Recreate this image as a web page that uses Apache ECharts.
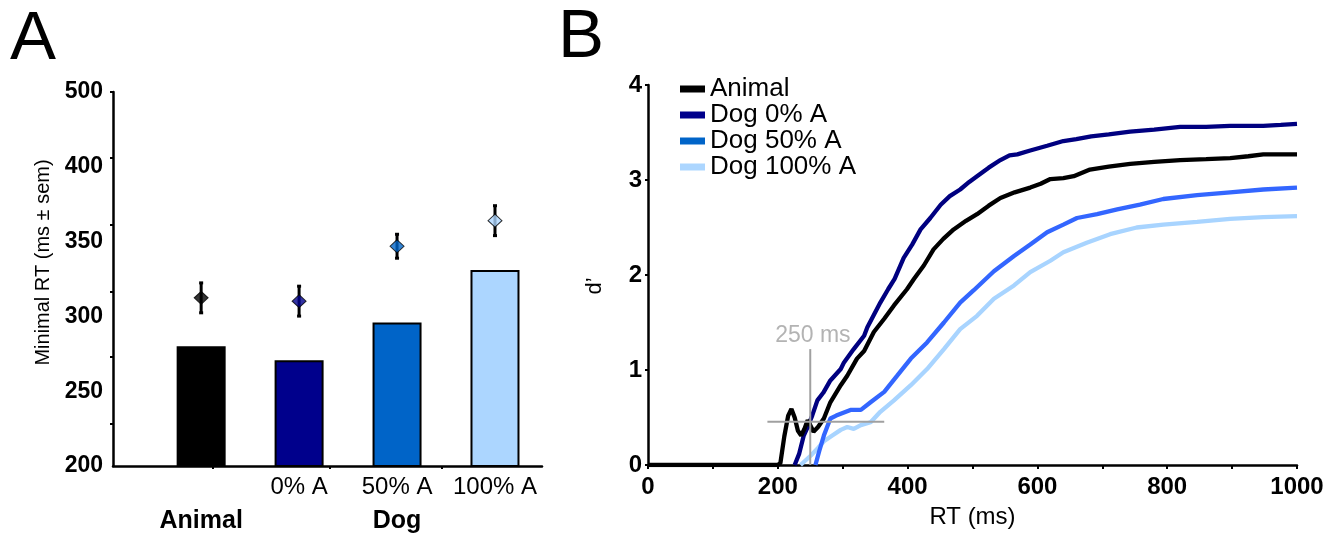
<!DOCTYPE html>
<html>
<head>
<meta charset="utf-8">
<script src="https://cdn.jsdelivr.net/npm/echarts@6/dist/echarts.min.js"></script>
<style>html,body{margin:0;padding:0;background:#fff;}#c{width:1336px;height:534px;}</style>
</head>
<body>
<div id="c"></div>
<script>
// ---------- Panel A data ----------
const categoriesA = ['Animal', '0% A', '50% A', '100% A'];
const subLabelsA = ['', '0% A', '50% A', '100% A'];
const groupLabelsA = ['Animal', 'Dog'];
const groupPosA = [1, 3];
const minimalRT = [280, 270.7, 296, 331];
const meanRT = [312.4, 310.2, 346.9, 364];
const semRT = [10, 10, 8, 10];
const yTickLabelsA = ['200', '250', '300', '350', '400', '500'];
const yTickMarksA = [228, 272.7, 316.7, 361.3, 406, 450];
const xTickMarksA = [1.12, 2.31, 3.46];
const barColors = ['#000000', '#00008c', '#0064c8', '#acd6ff'];

// ---------- Panel B data (RT ms, d') ----------
const curveAnimal = [[0,0],[100,0],[200,0],[204,0.02],[210,0.3],[216,0.52],[221,0.59],[226,0.5],[231,0.36],[236,0.31],[241,0.38],[246,0.47],[250,0.42],[255,0.35],[262,0.40],[271,0.49],[281,0.66],[297,0.84],[307,0.94],[322,1.12],[333,1.2],[348,1.40],[364,1.54],[379,1.68],[399,1.85],[410,1.96],[425,2.10],[440,2.27],[455,2.38],[471,2.48],[490,2.57],[507,2.64],[525,2.73],[543,2.81],[565,2.87],[589,2.92],[605,2.96],[620,3.01],[640,3.02],[656,3.04],[681,3.11],[710,3.14],[743,3.17],[780,3.19],[820,3.21],[860,3.22],[897,3.23],[925,3.25],[948,3.27],[975,3.27],[1000,3.27]];
const curveDog0 = [[226,0],[233,0.12],[240,0.31],[246,0.40],[253,0.52],[261,0.68],[270,0.76],[281,0.89],[297,1.01],[302,1.08],[317,1.22],[333,1.36],[338,1.45],[358,1.71],[370,1.85],[380,1.96],[394,2.18],[407,2.32],[420,2.48],[435,2.60],[451,2.74],[465,2.83],[481,2.90],[495,2.98],[507,3.04],[525,3.13],[543,3.21],[557,3.26],[569,3.27],[589,3.31],[615,3.36],[640,3.41],[660,3.43],[683,3.46],[710,3.48],[743,3.51],[780,3.53],[820,3.56],[860,3.56],[897,3.57],[948,3.57],[975,3.58],[1000,3.59]];
const curveDog50 = [[258,0],[264,0.15],[271,0.31],[281,0.49],[290,0.52],[297,0.54],[312,0.58],[328,0.58],[343,0.66],[364,0.77],[384,0.94],[405,1.12],[430,1.29],[456,1.50],[481,1.71],[502,1.84],[533,2.04],[564,2.20],[589,2.32],[615,2.45],[640,2.53],[661,2.60],[692,2.64],[723,2.69],[758,2.74],[794,2.80],[846,2.84],[897,2.87],[948,2.90],[1000,2.92]];
const curveDog100 = [[235,0],[243,0.05],[251,0.10],[262,0.18],[271,0.25],[284,0.31],[297,0.37],[307,0.40],[317,0.38],[328,0.42],[343,0.45],[358,0.56],[379,0.68],[405,0.84],[430,1.01],[456,1.22],[481,1.43],[507,1.57],[533,1.75],[564,1.89],[589,2.03],[620,2.15],[640,2.24],[676,2.34],[712,2.43],[753,2.50],[794,2.53],[846,2.56],[897,2.59],[948,2.61],[1000,2.62]];
const seriesNamesB = ['Animal', 'Dog 0% A', 'Dog 50% A', 'Dog 100% A'];
const lineColorsB = ['#000000', '#000080', '#3366ff', '#a8d4ff'];
const legendColorsB = ['#000000', '#00008c', '#0064c8', '#acd6ff'];
const markVertical = [[250, 0], [250, 1.22]];
const markHorizontal = [[184, 0.455], [364, 0.455]];
const markLabel = [[254, 1.36]];

const FONT = 'Liberation Sans, Arial, sans-serif';
const chart = echarts.init(document.getElementById('c'), null, {renderer: 'canvas'});

const axisLineStyle = {show: true, lineStyle: {color: '#000', width: 2.5}};

const option = {
  animation: false,
  backgroundColor: '#fff',
  textStyle: {fontFamily: FONT},
  graphic: [
    {type: 'text', left: 10, top: 5, style: {text: 'A', font: '69px ' + FONT, fill: '#000'}},
    {type: 'text', left: 558, top: 3, style: {text: 'B', font: '69px ' + FONT, fill: '#000'}}
  ],
  grid: [
    {left: 113, top: 92, width: 429, height: 375},
    {left: 648, top: 85, width: 649, height: 382}
  ],
  legend: {
    orient: 'vertical', left: 680, top: 76, padding: 0,
    icon: 'rect', itemWidth: 25, itemHeight: 7, itemGap: 0,
    textStyle: {fontSize: 26, lineHeight: 24.5, color: '#000', fontFamily: FONT},
    data: seriesNamesB.map((n, i) => ({name: n, itemStyle: {color: legendColorsB[i], borderWidth: 0}}))
  },
  xAxis: [
    {
      gridIndex: 0, type: 'value', min: 0.1, max: 4.48,
      axisLine: axisLineStyle, splitLine: {show: false},
      axisTick: {show: true, customValues: xTickMarksA, length: 3, lineStyle: {color: '#000', width: 2}},
      axisLabel: {customValues: [2, 3, 4], formatter: v => subLabelsA[Math.round(v) - 1], fontSize: 24, color: '#000', margin: 9, fontFamily: FONT}
    },
    {
      gridIndex: 0, type: 'value', min: 0.1, max: 4.48, position: 'bottom', offset: 34,
      axisLine: {show: false}, axisTick: {show: false}, splitLine: {show: false},
      axisLabel: {customValues: groupPosA, formatter: v => groupLabelsA[groupPosA.indexOf(Math.round(v))], fontSize: 25, fontWeight: 'bold', color: '#000', margin: 9, fontFamily: FONT}
    },
    {
      gridIndex: 1, type: 'value', min: 0, max: 1000, interval: 200,
      name: 'RT (ms)', nameLocation: 'middle', nameGap: 40,
      nameTextStyle: {fontSize: 24, color: '#000', fontFamily: FONT},
      axisLine: axisLineStyle, splitLine: {show: false},
      axisTick: {show: true, length: 4, lineStyle: {color: '#000', width: 2}},
      minorTick: {show: true, splitNumber: 2, length: 4, lineStyle: {color: '#000', width: 2}},
      axisLabel: {formatter: v => String(v), fontSize: 24, fontWeight: 'bold', color: '#000', margin: 10, fontFamily: FONT}
    }
  ],
  yAxis: [
    {
      gridIndex: 0, type: 'value', min: 200, max: 450, interval: 50,
      name: 'Minimal RT (ms \u00b1 sem)', nameLocation: 'middle', nameGap: 60, nameRotate: 90,
      nameTextStyle: {fontSize: 20, color: '#000', fontFamily: FONT, padding: [0, 0, 0, 33]},
      axisLine: axisLineStyle, splitLine: {show: false},
      axisTick: {show: true, customValues: yTickMarksA, length: 3, lineStyle: {color: '#000', width: 2}},
      axisLabel: {formatter: (v, i) => yTickLabelsA[i], fontSize: 23, fontWeight: 'bold', color: '#000', margin: 10, fontFamily: FONT}
    },
    {
      gridIndex: 1, type: 'value', min: 0, max: 4, interval: 1,
      name: 'd\u2019', nameLocation: 'middle', nameGap: 42, nameRotate: 90,
      nameTextStyle: {fontSize: 22, color: '#000', fontFamily: FONT, padding: [0, 22, 0, 0]},
      axisLine: axisLineStyle, splitLine: {show: false},
      axisTick: {show: true, length: 3, lineStyle: {color: '#000', width: 2}},
      axisLabel: {fontSize: 24, fontWeight: 'bold', color: '#000', margin: 6, fontFamily: FONT}
    }
  ],
  series: [
    {
      type: 'bar', xAxisIndex: 0, yAxisIndex: 0, barWidth: 49,
      data: minimalRT.map((v, i) => ({value: [i + 1, v], itemStyle: {color: barColors[i]}})),
      itemStyle: {borderColor: '#000', borderWidth: 2}
    },
    {
      type: 'custom', xAxisIndex: 0, yAxisIndex: 0, z: 5,
      data: meanRT.map((v, i) => [i + 1, v - semRT[i], v + semRT[i]]),
      renderItem: function (params, api) {
        const x = api.value(0);
        const p1 = api.coord([x, api.value(1)]);
        const p2 = api.coord([x, api.value(2)]);
        const st = {stroke: '#000', lineWidth: 3};
        return {type: 'group', children: [
          {type: 'line', shape: {x1: p1[0], y1: p1[1], x2: p2[0], y2: p2[1]}, style: st},
          {type: 'line', shape: {x1: p1[0] - 2, y1: p1[1], x2: p1[0] + 2, y2: p1[1]}, style: st},
          {type: 'line', shape: {x1: p2[0] - 2, y1: p2[1], x2: p2[0] + 2, y2: p2[1]}, style: st}
        ]};
      }
    },
    {
      type: 'scatter', xAxisIndex: 0, yAxisIndex: 0, z: 6, symbol: 'diamond', symbolSize: [14, 13],
      data: meanRT.map((v, i) => ({value: [i + 1, v], itemStyle: {color: barColors[i]}})),
      itemStyle: {borderColor: '#000', borderWidth: 1}
    },
    ...[curveDog100, curveDog50, curveDog0, curveAnimal].map((d, k) => {
      const idx = 3 - k;
      return {
        type: 'line', name: seriesNamesB[idx], xAxisIndex: 2, yAxisIndex: 1,
        data: d, showSymbol: false, smooth: false,
        lineStyle: {color: lineColorsB[idx], width: 4.3},
        itemStyle: {color: lineColorsB[idx]}
      };
    }),
    {
      type: 'line', xAxisIndex: 2, yAxisIndex: 1, data: markVertical, showSymbol: false, z: 8,
      lineStyle: {color: '#a0a0a0', width: 2}, silent: true
    },
    {
      type: 'line', xAxisIndex: 2, yAxisIndex: 1, data: markHorizontal, showSymbol: false, z: 8,
      lineStyle: {color: '#a0a0a0', width: 2}, silent: true
    },
    {
      type: 'scatter', xAxisIndex: 2, yAxisIndex: 1, data: markLabel, symbolSize: 0, z: 8,
      label: {show: true, position: 'inside', formatter: '250 ms', fontSize: 23, color: '#a0a0a0', fontFamily: FONT}
    }
  ]
};
chart.setOption(option);
</script>
</body>
</html>
